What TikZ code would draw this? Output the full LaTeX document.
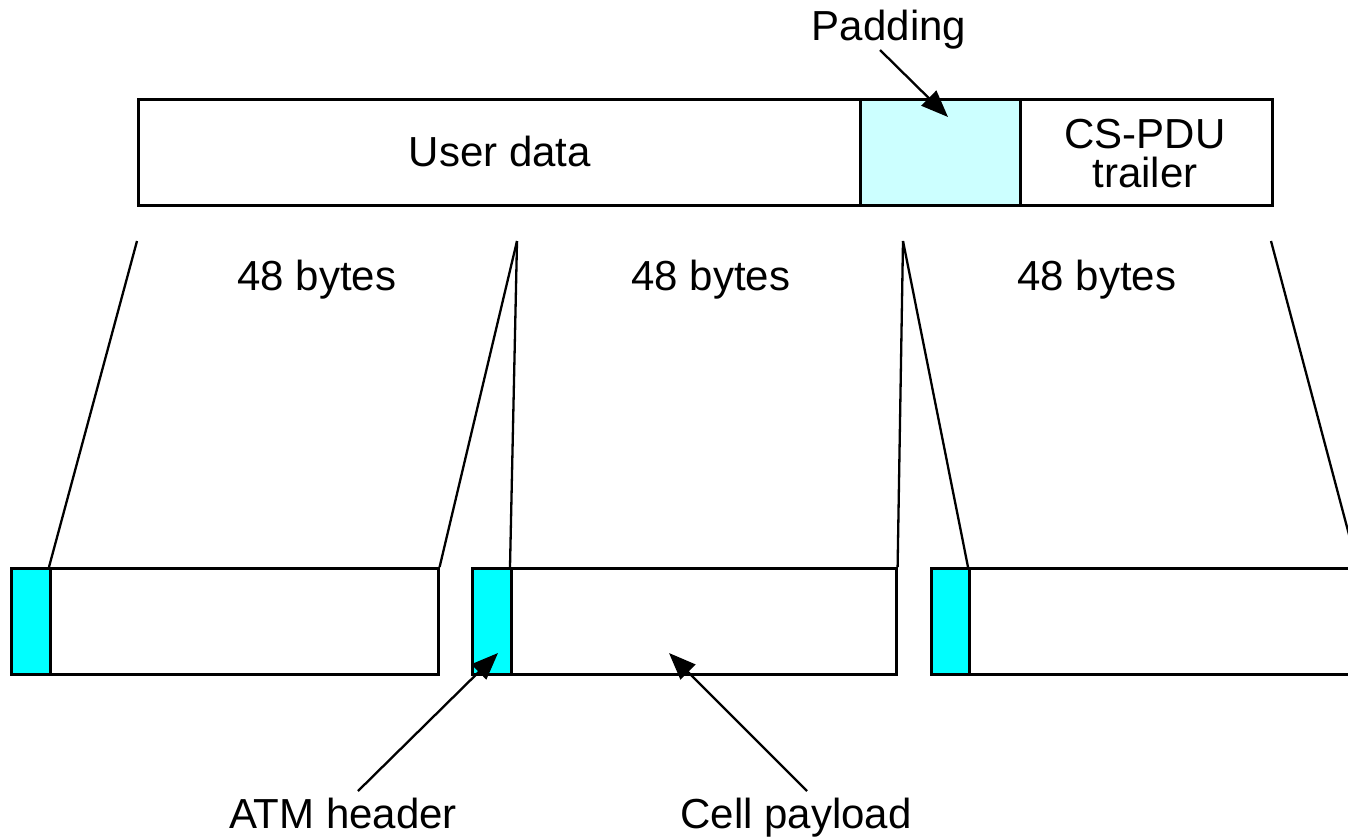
\documentclass[tikz,border=0pt]{standalone}
\usepackage{fontspec}
\setmainfont{Liberation Sans}
\usetikzlibrary{arrows.meta}
\definecolor{padfill}{HTML}{CCFFFF}
\definecolor{hdrfill}{HTML}{00FFFF}
\tikzset{
  box/.style={draw=black, line width=2.6pt, rectangle, inner sep=0pt, anchor=north west},
  lbl/.style={font=\fontsize{42}{39}\selectfont, inner sep=0pt, anchor=base, align=center},
  fan/.style={line width=2.3pt},
  callout/.style={line width=2.3pt, -{Triangle[length=27pt,width=21pt]}},
}
\begin{document}
\begin{tikzpicture}[x=1pt,y=-1pt]
\useasboundingbox (0,0) rectangle (1348,839);
\clip (0,0) rectangle (1348,839);
% top bar
\node[box, fill=white, minimum width=722pt, minimum height=106pt] (user) at (137,98) {};
\node[box, fill=padfill, minimum width=160pt, minimum height=106pt] (pad) at (859,98) {};
\node[box, fill=white, minimum width=252pt, minimum height=106pt] (trl) at (1019,98) {};
\node[lbl] (usertxt) at (500,166) {User data};
\node[lbl] (trltxt) at (1145,187) {CS-PDU\\trailer};
\node[lbl] (padlbl) at (889,40) {Padding};
% cells
\node[box, fill=hdrfill, minimum width=39pt, minimum height=106pt] (h1) at (10,567) {};
\node[box, fill=white, minimum width=388pt, minimum height=106pt] (p1) at (49,567) {};
\node[box, fill=hdrfill, minimum width=39pt, minimum height=106pt] (h2) at (471,567) {};
\node[box, fill=white, minimum width=385pt, minimum height=106pt] (p2) at (510,567) {};
\node[box, fill=hdrfill, minimum width=38pt, minimum height=106pt] (h3) at (930,567) {};
\node[box, fill=white, minimum width=387pt, minimum height=106pt] (p3) at (968,567) {};
% byte labels
\node[lbl] (b1) at (317,290) {48 bytes};
\node[lbl] (b2) at (711,290) {48 bytes};
\node[lbl] (b3) at (1097,290) {48 bytes};
% fan lines
\coordinate (s1) at (137,241);
\coordinate (s2) at (517,241);
\coordinate (s3) at (903,241);
\coordinate (s4) at (1271,241);
\draw[fan] (s1) -- (p1.north west);
\draw[fan] (s2) -- (p1.north east);
\draw[fan] (s2) -- (p2.north west);
\draw[fan] (s3) -- (p2.north east);
\draw[fan] (s3) -- (p3.north west);
\draw[fan] (s4) -- (p3.north east);
% callouts
\coordinate (padtail) at (880,50);
\coordinate (padtip) at (948,117);
\draw[callout] (padtail) -- (padtip);
\node[lbl] (atmlbl) at (343,828) {ATM header};
\node[lbl] (cplbl) at (796,828) {Cell payload};
\coordinate (atmtail) at (358,791);
\coordinate (atmtip) at (498,653);
\coordinate (cptail) at (807,791);
\coordinate (cptip) at (669,653);
\draw[callout] (atmtail) -- (atmtip);
\draw[callout] (cptail) -- (cptip);
\end{tikzpicture}
\end{document}
